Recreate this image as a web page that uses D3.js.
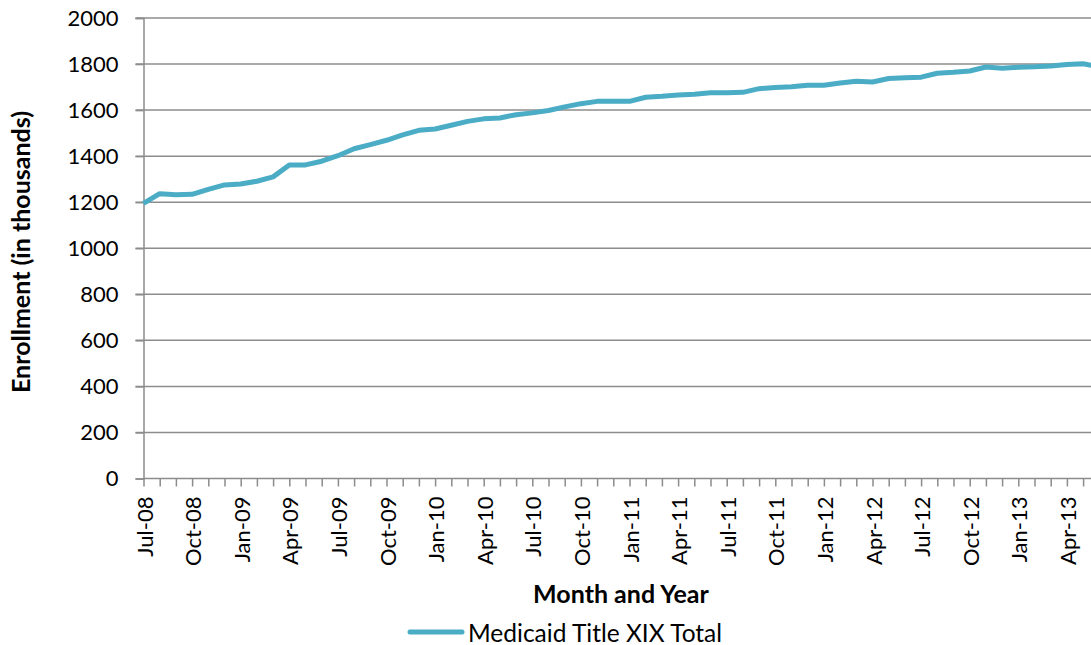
<!DOCTYPE html>
<html>
<head>
<meta charset="utf-8">
<script src="https://cdn.jsdelivr.net/npm/d3@7"></script>
<style>
  body { margin: 0; background: #fff; }
  svg { display: block; font-family: Lato, "Open Sans", sans-serif; }
</style>
</head>
<body>
<svg id="chart"></svg>
<script>
// monthly enrollment, thousands
const months = ["Jul-08","Aug-08","Sep-08","Oct-08","Nov-08","Dec-08",
  "Jan-09","Feb-09","Mar-09","Apr-09","May-09","Jun-09","Jul-09","Aug-09","Sep-09","Oct-09","Nov-09","Dec-09",
  "Jan-10","Feb-10","Mar-10","Apr-10","May-10","Jun-10","Jul-10","Aug-10","Sep-10","Oct-10","Nov-10","Dec-10",
  "Jan-11","Feb-11","Mar-11","Apr-11","May-11","Jun-11","Jul-11","Aug-11","Sep-11","Oct-11","Nov-11","Dec-11",
  "Jan-12","Feb-12","Mar-12","Apr-12","May-12","Jun-12","Jul-12","Aug-12","Sep-12","Oct-12","Nov-12","Dec-12",
  "Jan-13","Feb-13","Mar-13","Apr-13","May-13","Jun-13"]
const enrollment = [1195,1237,1232,1234,1256,1275,
  1279,1291,1310,1362,1362,1378,1402,1432,1450,1469,1492,1512,
  1518,1534,1551,1562,1566,1580,1588,1598,1614,1628,1638,1638,
  1638,1656,1660,1666,1669,1675,1675,1677,1693,1698,1701,1708,
  1708,1718,1725,1722,1737,1740,1743,1760,1764,1770,1787,1782,
  1786,1788,1792,1798,1801,1789]
const yTicks = [0,200,400,600,800,1000,1200,1400,1600,1800,2000]
const seriesName = "Medicaid Title XIX Total"

const width = 1091, height = 645
const plotLeft = 143.5, plotTop = 18, plotBottom = 478.5, step = 16.2
const plotRight = 1120

const svg = d3.select("#chart")
              .attr("width", width)
              .attr("height", height)

const x = d3.scalePoint()
            .domain(months)
            .range([plotLeft, plotLeft + step * (months.length - 1)])

const y = d3.scaleLinear()
            .domain([0, 2000])
            .range([plotBottom, plotTop])

// horizontal gridlines
svg.append("g")
   .selectAll("line")
   .data(yTicks.filter(d => d > 0))
   .join("line")
     .attr("x1", plotLeft - 8)
     .attr("x2", plotRight)
     .attr("y1", d => y(d))
     .attr("y2", d => y(d))
     .attr("stroke", "#8c8c8c")
     .attr("stroke-width", 1.5)

// y axis
const yAxis = svg.append("g")
   .attr("transform", `translate(${plotLeft},0)`)
   .call(d3.axisLeft(y).tickValues(yTicks).tickFormat(d3.format("d")).tickSize(8).tickPadding(17))
   .attr("font-family", null)
   .attr("font-size", null)
yAxis.select(".domain").attr("stroke", "#8c8c8c").attr("stroke-width", 1.5)
yAxis.selectAll(".tick line").attr("stroke", "#8c8c8c").attr("stroke-width", 1.5)
yAxis.selectAll("text")
     .style("font-size", "22px")
     .attr("fill", "#000")

// x axis
const xAxis = svg.append("g")
   .attr("transform", `translate(0,${plotBottom})`)
   .call(d3.axisBottom(x)
           .tickSize(8)
           .tickSizeOuter(0)
           .tickFormat((d, i) => i % 3 === 0 ? d : ""))
   .attr("font-family", null)
   .attr("font-size", null)
xAxis.select(".domain").attr("d", `M${plotLeft},0H${plotRight}`)
     .attr("stroke", "#8c8c8c").attr("stroke-width", 1.5)
xAxis.selectAll(".tick line").attr("stroke", "#8c8c8c").attr("stroke-width", 1.5)
xAxis.selectAll("text")
     .style("font-size", "22px")
     .attr("fill", "#000")
     .attr("text-anchor", "end")
     .attr("dominant-baseline", "central")
     .attr("transform", "rotate(-90)")
     .attr("x", -18)
     .attr("y", 0)
     .attr("dy", null)

// series line
const line = d3.line()
               .x((d, i) => x(months[i]))
               .y(d => y(d))

svg.append("path")
   .datum(enrollment)
   .attr("fill", "none")
   .attr("stroke", "#4bacc6")
   .attr("stroke-width", 5)
   .attr("stroke-linejoin", "round")
   .attr("d", line)

// axis titles
svg.append("text")
   .attr("x", 621)
   .attr("y", 603)
   .attr("text-anchor", "middle")
   .style("font-size", "25px")
   .style("font-weight", "bold")
   .text("Month and Year")

svg.append("text")
   .attr("transform", `translate(30,252) rotate(-90)`)
   .attr("text-anchor", "middle")
   .style("font-size", "25px")
   .style("font-weight", "bold")
   .text("Enrollment (in thousands)")

// legend
svg.append("line")
   .attr("x1", 410).attr("x2", 462)
   .attr("y1", 632).attr("y2", 632)
   .attr("stroke", "#4bacc6")
   .attr("stroke-width", 5)
   .attr("stroke-linecap", "round")

svg.append("text")
   .attr("x", 468)
   .attr("y", 632)
   .attr("dominant-baseline", "central")
   .style("font-size", "24.5px")
   .text(seriesName)
</script>
</body>
</html>
